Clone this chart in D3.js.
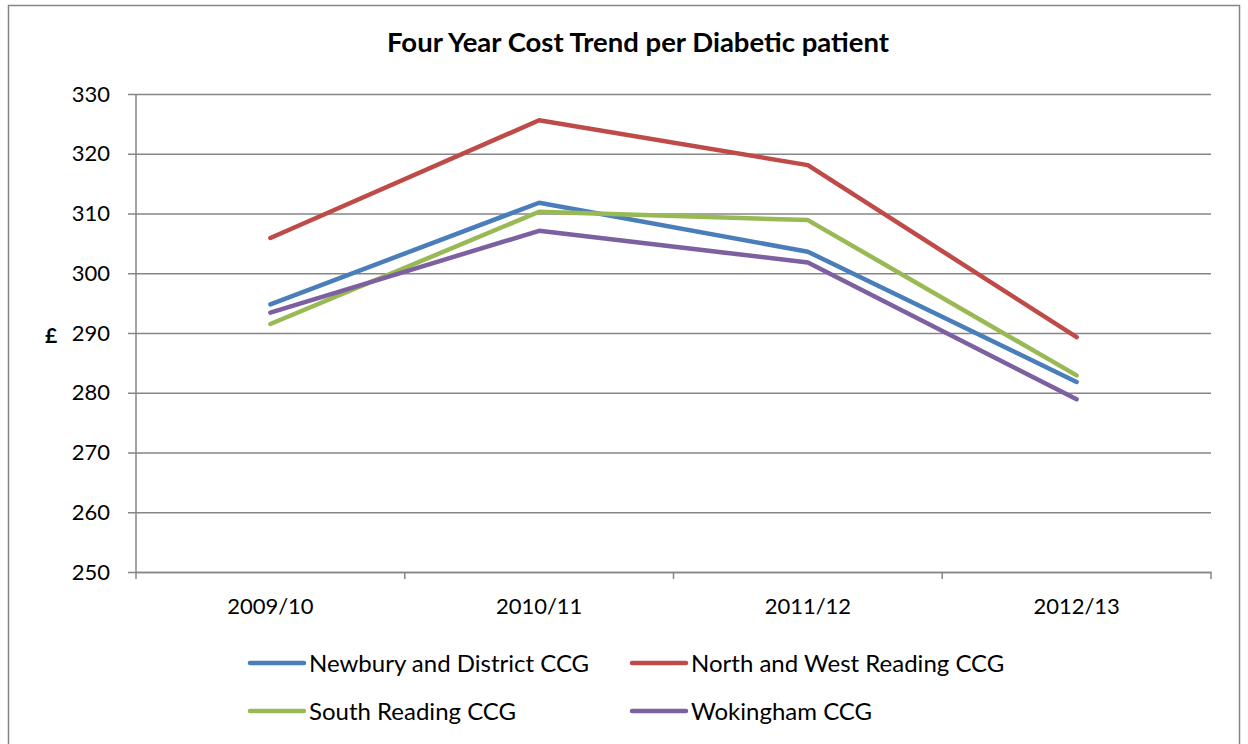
<!DOCTYPE html>
<html>
<head>
<meta charset="utf-8">
<script src="https://cdn.jsdelivr.net/npm/d3@7"></script>
<style>
  body { margin: 0; background: #fff; }
  svg { font-family: Lato, "Open Sans", sans-serif; }
</style>
</head>
<body>
<div id="chart"></div>
<script>

// Chart data
var years = ["2009/10", "2010/11", "2011/12", "2012/13"];
var newbury = [294.8, 311.8, 303.6, 281.8];
var northWest = [305.9, 325.6, 318.1, 289.3];
var southReading = [291.5, 310.3, 308.9, 282.9];
var wokingham = [293.4, 307.1, 301.8, 278.9];
var yTicks = [250, 260, 270, 280, 290, 300, 310, 320, 330];

var seriesNames = ["Newbury and District CCG", "North and West Reading CCG", "South Reading CCG", "Wokingham CCG"];
var seriesColors = ["#4A7EBB", "#BE4B48", "#98B954", "#7D60A0"];

var series = [newbury, northWest, southReading, wokingham].map(function(vals, i) {
    return { name: seriesNames[i], color: seriesColors[i], values: vals };
});

var width = 1248, height = 744;
var margin = { top: 94, right: 37, bottom: 172, left: 136 };
var w = width - margin.left - margin.right,
    h = height - margin.top - margin.bottom;

var svg = d3.select("#chart").append("svg")
    .attr("width", width)
    .attr("height", height);

// outer frame
svg.append("rect")
    .attr("x", 8.5).attr("y", 5.5)
    .attr("width", 1231).attr("height", 760)
    .attr("fill", "none")
    .attr("stroke", "#868686")
    .attr("stroke-width", 1.5);

// title
svg.append("text")
    .attr("x", 638).attr("y", 52)
    .attr("text-anchor", "middle")
    .style("font-weight", "bold")
    .style("font-size", "27.5px")
    .text("Four Year Cost Trend per Diabetic patient");

var g = svg.append("g")
    .attr("transform", "translate(" + margin.left + "," + margin.top + ")");

// scales
var x = d3.scaleBand().domain(years).range([0, w]).padding(0);
var y = d3.scaleLinear().domain([250, 330]).range([h, 0]);

// y axis with gridlines
var yAxis = d3.axisLeft(y)
    .tickValues(yTicks)
    .tickSize(-w)
    .tickPadding(26);

g.append("g")
    .attr("class", "y-axis")
    .call(yAxis)
    .call(function(ax) {
        ax.select(".domain").remove();
        ax.selectAll(".tick line")
            .attr("x1", -8)
            .attr("stroke", "#868686")
            .attr("stroke-width", 1.5);
        ax.selectAll(".tick text")
            .attr("fill", "#000")
            .style("font-size", "22px")
            .style("font-family", "Lato, sans-serif");
    });

// vertical axis line
g.append("line")
    .attr("x1", 0).attr("x2", 0)
    .attr("y1", 0).attr("y2", h + 7)
    .attr("stroke", "#868686")
    .attr("stroke-width", 1.5);

// x axis: labels at band centres, ticks at band edges
var xAxis = d3.axisBottom(x).tickSize(0).tickPadding(26);
g.append("g")
    .attr("class", "x-axis")
    .attr("transform", "translate(0," + h + ")")
    .call(xAxis)
    .call(function(ax) {
        ax.select(".domain")
            .attr("stroke", "#868686")
            .attr("stroke-width", 1.5);
        ax.selectAll(".tick text")
            .attr("fill", "#000")
            .style("font-size", "22px")
            .style("font-family", "Lato, sans-serif");
    });

g.selectAll(".x-edge")
    .data(years)
    .enter().append("line")
    .attr("class", "x-edge")
    .attr("x1", function(d) { return x(d) + x.bandwidth(); })
    .attr("x2", function(d) { return x(d) + x.bandwidth(); })
    .attr("y1", h).attr("y2", h + 7)
    .attr("stroke", "#868686")
    .attr("stroke-width", 1.5);

// y axis label
svg.append("text")
    .attr("x", 51).attr("y", 343)
    .attr("text-anchor", "middle")
    .style("font-weight", "bold")
    .style("font-size", "21px")
    .text("£");

// lines
var line = d3.line()
    .x(function(d, i) { return x(years[i]) + x.bandwidth() / 2; })
    .y(function(d) { return y(d); });

g.selectAll(".series")
    .data(series)
    .enter().append("path")
    .attr("class", "series")
    .attr("d", function(d) { return line(d.values); })
    .attr("fill", "none")
    .attr("stroke", function(d) { return d.color; })
    .attr("stroke-width", 4.5)
    .attr("stroke-linejoin", "round")
    .attr("stroke-linecap", "round");

// legend
var legendPos = [[250, 663], [632, 663], [250, 711], [632, 711]];
var legend = svg.selectAll(".legend-item")
    .data(series)
    .enter().append("g")
    .attr("class", "legend-item")
    .attr("transform", function(d, i) { return "translate(" + legendPos[i][0] + "," + legendPos[i][1] + ")"; });

legend.append("line")
    .attr("x1", 0).attr("x2", 54)
    .attr("stroke", function(d) { return d.color; })
    .attr("stroke-width", 4.5)
    .attr("stroke-linecap", "round");

legend.append("text")
    .attr("x", 59).attr("y", 8.5)
    .style("font-size", "24px")
    .text(function(d) { return d.name; });

</script>
</body>
</html>
